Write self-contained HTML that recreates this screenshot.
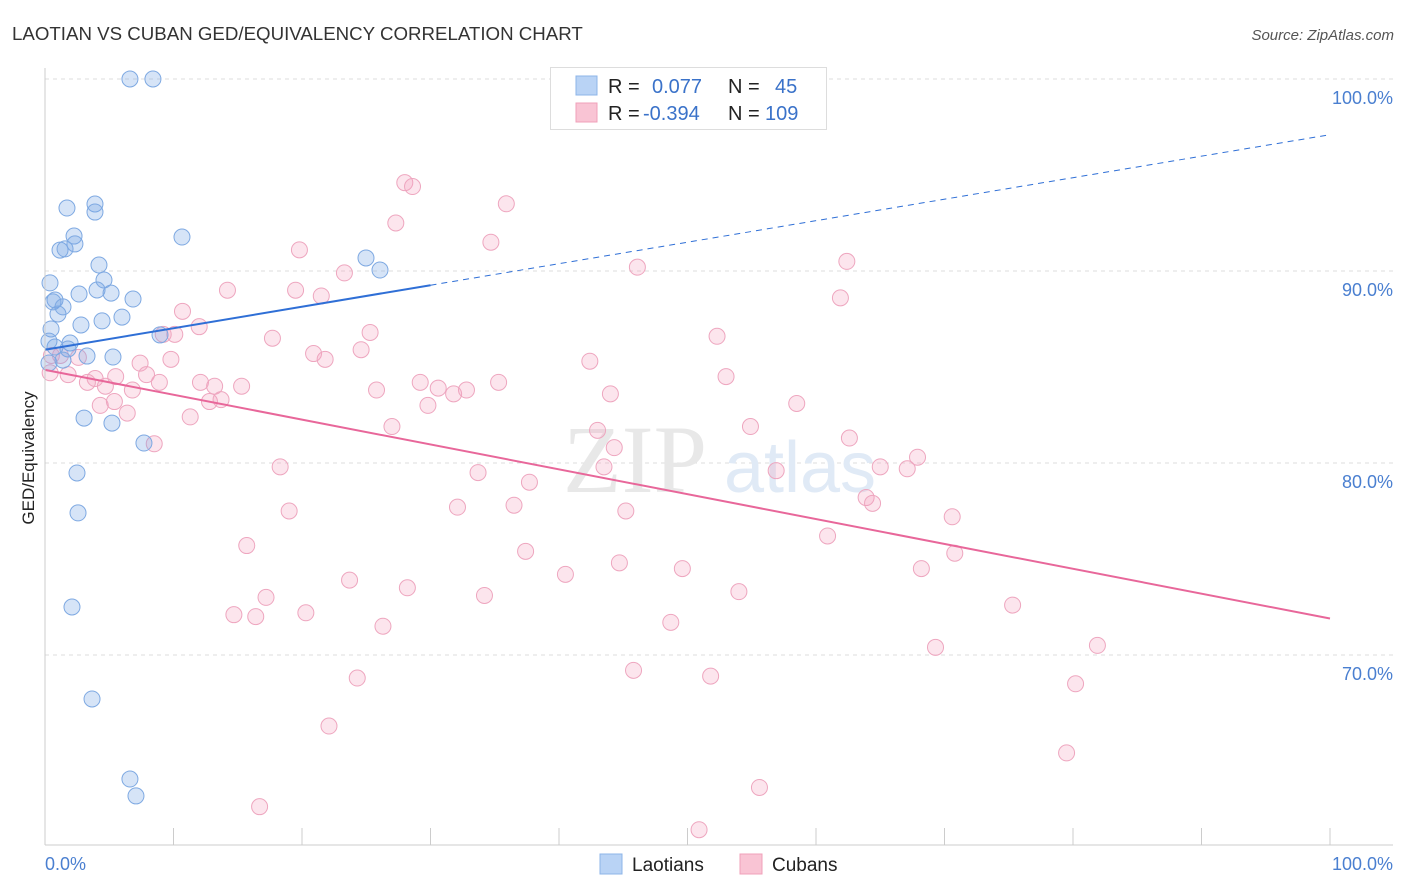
<!DOCTYPE html>
<html><head><meta charset="utf-8"><style>
body{margin:0;background:#fff;font-family:"Liberation Sans",sans-serif;}
svg{display:block}
</style></head><body>
<svg id="chart" width="1406" height="892" viewBox="0 0 1406 892">
<text x="12" y="40" font-size="18.7" fill="#333">LAOTIAN VS CUBAN GED/EQUIVALENCY CORRELATION CHART</text>
<text x="1394" y="40" font-size="15" fill="#555" font-style="italic" text-anchor="end">Source: ZipAtlas.com</text>
<g id="grid"></g>
<text x="635" y="492" font-size="96" fill="#e8e8e8" font-family="Liberation Serif,serif" text-anchor="middle">ZIP</text>
<text x="800" y="492" font-size="72" fill="#e0eaf6" text-anchor="middle">atlas</text>
<g id="points"></g>
<g id="lines"></g>
<line x1="45" y1="68" x2="45" y2="845" stroke="#ccc"/>
<line x1="45" y1="845" x2="1393" y2="845" stroke="#ccc"/>
<text transform="translate(34,458) rotate(-90)" font-size="17" fill="#222" text-anchor="middle">GED/Equivalency</text>
<text x="45" y="870" font-size="18" fill="#4a7fd0">0.0%</text>
<text x="1393" y="870" font-size="18" fill="#4a7fd0" text-anchor="end">100.0%</text>
<g>
<rect x="550.5" y="67.5" width="276" height="62" fill="#fff" stroke="#ddd"/>
<rect x="576" y="76" width="21" height="19" fill="#b9d3f5" stroke="#8db4e8"/>
<rect x="576" y="103" width="21" height="19" fill="#f9c4d4" stroke="#f0a0ba"/>
<text x="608" y="93" font-size="20" fill="#222">R =</text>
<text x="652" y="93" font-size="20" fill="#3a72c9">0.077</text>
<text x="728" y="93" font-size="20" fill="#222">N =</text>
<text x="775" y="93" font-size="20" fill="#3a72c9">45</text>
<text x="608" y="120" font-size="20" fill="#222">R =</text>
<text x="643" y="120" font-size="20" fill="#3a72c9">-0.394</text>
<text x="728" y="120" font-size="20" fill="#222">N =</text>
<text x="765" y="120" font-size="20" fill="#3a72c9">109</text>
</g>
<g>
<rect x="600" y="854" width="22" height="20" fill="#b9d3f5" stroke="#8db4e8"/>
<text x="632" y="871" font-size="19" fill="#222">Laotians</text></g>
<g>
<rect x="740" y="854" width="22" height="20" fill="#f9c4d4" stroke="#f0a0ba"/>
<text x="772" y="871" font-size="19" fill="#222">Cubans</text></g>
</svg>
<script>
const yTicks=[100,90,80,70];
const yTickLabels=["100.0%","90.0%","80.0%","70.0%"];
const xTicks=[0,10,20,30,40,50,60,70,80,90,100];
const laoX=[6.61,8.40,1.71,3.89,3.89,2.26,10.66,1.17,2.33,1.56,4.20,24.98,26.07,4.59,0.39,2.65,4.05,5.14,6.85,0.78,0.62,1.40,1.01,5.99,4.44,2.80,0.47,8.95,0.31,1.95,0.78,1.79,3.27,5.29,1.40,0.31,3.04,5.21,7.70,2.49,2.57,2.10,3.66,6.61,7.08];
const laoY=[100,100,93.28,93.49,93.07,91.82,91.77,91.09,91.41,91.15,90.31,90.68,90.05,89.53,89.38,88.80,89.01,88.85,88.54,88.49,88.39,88.13,87.76,87.60,87.40,87.19,86.98,86.67,86.35,86.25,86.04,85.94,85.57,85.52,85.36,85.21,82.34,82.08,81.04,79.48,77.40,72.50,67.71,63.54,62.66];
const cubX=[28.0,28.6,35.9,27.3,34.7,19.8,10.7,14.2,19.5,21.5,23.3,46.1,62.4,61.9,12.0,10.1,9.2,17.7,25.3,20.9,21.8,24.6,52.3,0.5,1.2,2.6,7.4,9.8,42.4,0.4,1.8,3.9,5.5,7.9,3.3,4.7,6.8,8.9,12.1,13.2,15.3,29.2,30.6,31.8,32.8,35.3,53.0,25.8,44.0,4.3,5.4,6.4,12.8,13.7,11.3,29.8,58.5,27.0,43.0,54.9,62.6,8.5,44.3,18.3,33.7,43.5,56.9,65.0,67.1,67.9,37.7,63.9,64.4,19.0,32.1,36.5,45.2,70.6,60.9,15.7,37.4,70.8,44.7,49.6,40.5,23.7,68.2,28.2,34.2,17.2,54.0,75.3,14.7,16.4,20.3,48.7,26.3,81.9,69.3,45.8,24.3,51.8,80.2,22.1,79.5,55.6,16.7,50.9];
const cubY=[94.6,94.4,93.5,92.5,91.5,91.1,87.9,89.0,89.0,88.7,89.9,90.2,90.5,88.6,87.1,86.7,86.7,86.5,86.8,85.7,85.4,85.9,86.6,85.6,85.6,85.5,85.2,85.4,85.3,84.7,84.6,84.4,84.5,84.6,84.2,84.0,83.8,84.2,84.2,84.0,84.0,84.2,83.9,83.6,83.8,84.2,84.5,83.8,83.6,83.0,83.2,82.6,83.2,83.3,82.4,83.0,83.1,81.9,81.7,81.9,81.3,81.0,80.8,79.8,79.5,79.8,79.6,79.8,79.7,80.3,79.0,78.2,77.9,77.5,77.7,77.8,77.5,77.2,76.2,75.7,75.4,75.3,74.8,74.5,74.2,73.9,74.5,73.5,73.1,73.0,73.3,72.6,72.1,72.0,72.2,71.7,71.5,70.5,70.4,69.2,68.8,68.9,68.5,66.3,64.9,63.1,62.1,60.9];
const laoTrend=[85.9,97.1];
const cubTrend=[84.85,71.9];
const NS='http://www.w3.org/2000/svg';
const sx=v=>45+v*12.85, sy=v=>79+(100-v)*19.2;
function mk(tag,attrs,parent){const e=document.createElementNS(NS,tag);for(const k in attrs)e.setAttribute(k,attrs[k]);parent.appendChild(e);return e;}
const grid=document.getElementById('grid');
yTicks.forEach((t,i)=>{
 const l=mk('line',{x1:45,x2:1393,y1:sy(t),y2:sy(t),stroke:'#ddd','stroke-dasharray':'4,4'},grid);
 
 
 const tx=mk('text',{x:1393,y:sy(t)+25,'font-size':18,fill:'#4a7fd0','text-anchor':'end'},grid);
 tx.textContent=yTickLabels[i];
 
 
});
xTicks.forEach(t=>{
 const l=mk('line',{x1:sx(t),x2:sx(t),y1:828,y2:845,stroke:'#ccc'},grid);
 
 
});
const pts=document.getElementById('points');
cubX.forEach((x,i)=>{
 const c=mk('circle',{cx:sx(x),cy:sy(cubY[i]),r:8,fill:'rgba(244,160,190,0.28)',stroke:'#eea6bf','stroke-width':1},pts);
 
 
});
laoX.forEach((x,i)=>{
 const c=mk('circle',{cx:sx(x),cy:sy(laoY[i]),r:8,fill:'rgba(120,165,230,0.3)',stroke:'#7ea9e2','stroke-width':1},pts);
 
 
});
const ln=document.getElementById('lines');
const lyAt=v=>laoTrend[0]+(laoTrend[1]-laoTrend[0])*v/100;
let a=mk('line',{x1:sx(0),y1:sy(lyAt(0)),x2:sx(30),y2:sy(lyAt(30)),stroke:'#2f6fd6','stroke-width':2},ln);


let b=mk('line',{x1:sx(30),y1:sy(lyAt(30)),x2:sx(100),y2:sy(lyAt(100)),stroke:'#2f6fd6','stroke-width':1,'stroke-dasharray':'6,5'},ln);


let c=mk('line',{x1:sx(0),y1:sy(cubTrend[0]),x2:sx(100),y2:sy(cubTrend[1]),stroke:'#e8679a','stroke-width':2},ln);


</script>
</body></html>
